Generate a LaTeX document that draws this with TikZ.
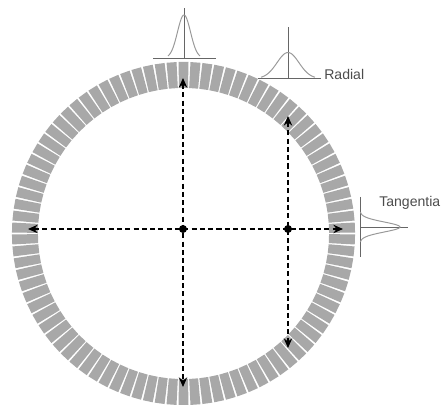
\documentclass[tikz,border=0pt]{standalone}
\usepackage{fontspec}
\setmainfont{Liberation Sans}
\usetikzlibrary{arrows.meta}
\definecolor{rtilegray}{HTML}{A8A8A8}
\definecolor{rcurve}{HTML}{999999}
\definecolor{rline}{HTML}{666666}
\tikzset{
  >={Stealth[length=2.4mm,width=2.1mm]},
  rtile/.style={fill=rtilegray},
  rscan/.style={black, line width=1pt, dash pattern=on 3.6pt off 2.3pt, <->},
  rdot/.style={circle, fill=black, inner sep=0pt, minimum size=2mm},
  rbase/.style={rline, line width=0.6pt},
  rgauss/.style={rcurve, line width=0.7pt, smooth, samples=41},
  rlbl/.style={black!70, font=\fontsize{10}{12}\selectfont, inner sep=0pt},
}

\begin{document}
\begin{tikzpicture}[x=0.025cm, y=-0.025cm]
  \useasboundingbox (0,0) rectangle (443,407);

  % anel de detectores
  \foreach \a in {0,4,...,356}
    \fill[rtile, shift={(183.5,233.5)}, rotate=90+\a]
      (145.5,-4.5) -- (171.5,-5) -- (171.5,5) -- (145.5,4.5) -- cycle;

  % centros
  \node[rdot] (ctr) at (183,229) {};
  \node[rdot] (off) at (288,229) {};

  % setas
  \coordinate (ctrW) at (28,229);
  \coordinate (ctrE) at (343,229);
  \coordinate (ctrN) at (183,78);
  \coordinate (ctrS) at (183,387);
  \coordinate (offN) at (288,116);
  \coordinate (offS) at (288,348);
  \draw[rscan] (ctrW) -- (ctrE);
  \draw[rscan] (ctrN) -- (ctrS);
  \draw[rscan] (offN) -- (offS);

  % perfil no topo
  \coordinate (topL) at (153,58);
  \coordinate (topR) at (216,58);
  \coordinate (topA) at (184,58);
  \coordinate (topB) at (184,8);
  \draw[rbase] (topL) -- (topR);
  \draw[rbase] (topA) -- (topB);
  \draw[rgauss, domain=-16:16] plot ({184+\x}, {58-43*exp(-\x*\x/(2*6.5*6.5))});

  % perfil radial
  \coordinate (radL) at (258,78.5);
  \coordinate (radR) at (321,78.5);
  \coordinate (radA) at (288,78.5);
  \coordinate (radB) at (288,27);
  \draw[rbase] (radL) -- (radR);
  \draw[rbase] (radA) -- (radB);
  \draw[rgauss, domain=-27:27] plot ({288+\x}, {78.5-26*exp(-\x*\x/(2*11*11))});

  % perfil tangencial
  \coordinate (tanT) at (360,197);
  \coordinate (tanB) at (360,257);
  \coordinate (tanA) at (360,227);
  \coordinate (tanC) at (408,227);
  \draw[rbase] (tanT) -- (tanB);
  \draw[rbase] (tanA) -- (tanC);
  \draw[rgauss, domain=-15:15] plot ({360+40*exp(-\x*\x/(2*5*5))}, {227+\x});

  % legendas
  \node[rlbl, anchor=west] (radlbl) at (324,74) {Radial};
  \node[rlbl, anchor=west] (tanlbl) at (379,203) {Tangentia};
\end{tikzpicture}
\end{document}
